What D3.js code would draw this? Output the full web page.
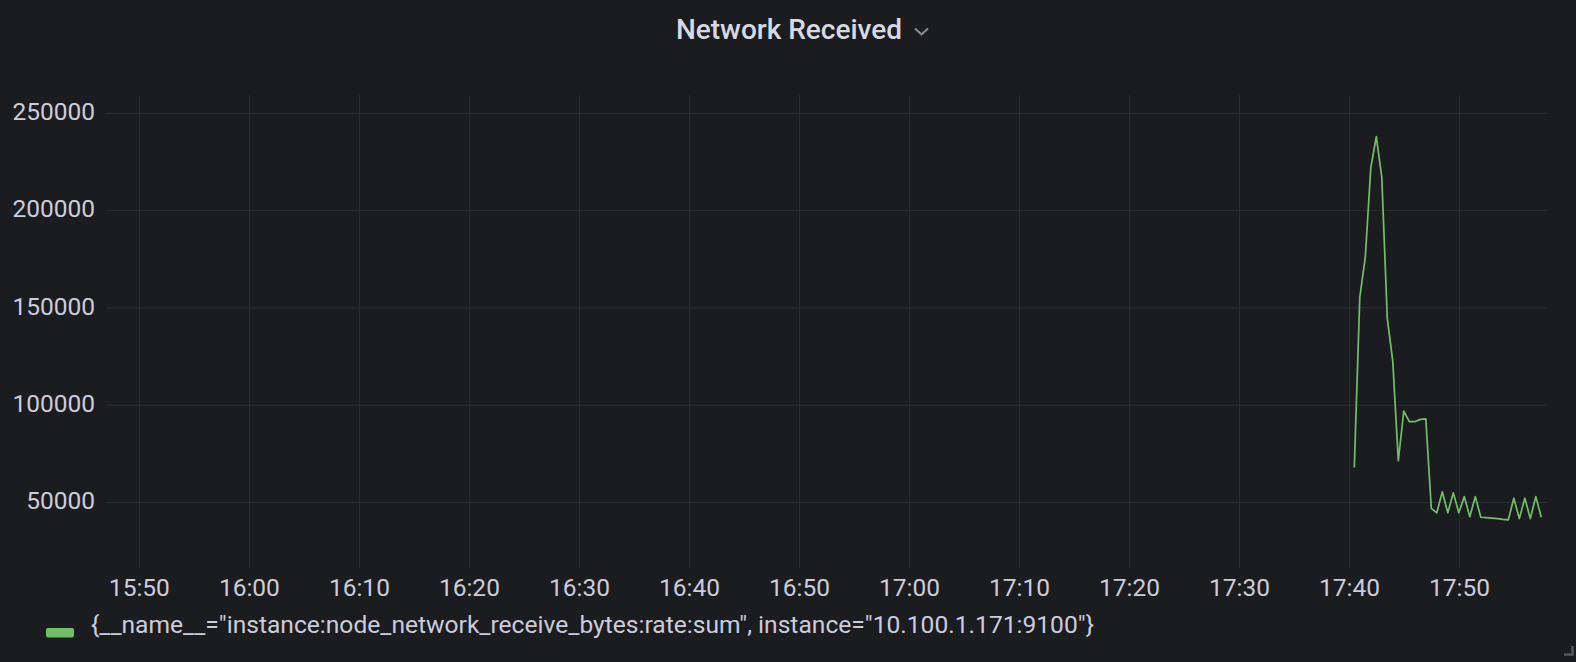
<!DOCTYPE html>
<html>
<head>
<meta charset="utf-8">
<script src="https://cdn.jsdelivr.net/npm/d3@7"></script>
<style>
  html, body { margin: 0; padding: 0; background: #1b1c20; }
  svg { display: block; }
</style>
</head>
<body>
<svg id="chart" width="1576" height="662"></svg>
<script>
const title = "Network Received";
const seriesName = '{__name__="instance:node_network_receive_bytes:rate:sum", instance="10.100.1.171:9100"}';
const times = ["17:40:26","17:40:56","17:41:26","17:41:56","17:42:26","17:42:56","17:43:26","17:43:56",
  "17:44:26","17:44:56","17:45:26","17:45:56","17:46:26","17:46:56","17:47:26","17:47:56",
  "17:48:26","17:48:56","17:49:26","17:49:56","17:50:26","17:50:56","17:51:26","17:51:56",
  "17:52:26","17:52:56","17:53:26","17:53:56","17:54:26","17:54:56","17:55:26","17:55:56",
  "17:56:26","17:56:56","17:57:26"];
const values = [68000,155500,176000,222000,238000,217000,144500,122500,71500,97000,
  91500,91500,92700,93000,47000,44700,55500,44700,55000,44700,
  53000,42700,53000,42400,42200,42000,41700,41300,41100,52200,
  41700,52200,41700,53000,42400];
const yTicks = [50000,100000,150000,200000,250000];
const xTickLabels = ["15:50","16:00","16:10","16:20","16:30","16:40","16:50","17:00","17:10","17:20","17:30","17:40","17:50"];
const xDomain = ["15:46:58","17:57:57"];
const yDomain = [16330, 259400];

(function () {
const parse = d3.timeParse("%H:%M:%S");
const parseTick = d3.timeParse("%H:%M");
const svg = d3.select("#chart");
const pLeft = 106, pRight = 1547, pTop = 95, pBottom = 568;

const x = d3.scaleTime().domain(xDomain.map(parse)).range([pLeft, pRight]);
const y = d3.scaleLinear().domain(yDomain).range([pBottom, pTop]);

const textColor = "#ccccdc";
const gridColor = "#2d2e33";
const lineColor = "#73bf69";

// title
svg.append("text").attr("x", 789).attr("y", 39).attr("text-anchor", "middle")
  .attr("font-family", "Roboto").attr("font-weight", 500).attr("font-size", 28)
  .attr("fill", "#d8d9e2").text(title);
svg.append("path").attr("d", "M915,28.5 L921.5,34.5 L928,28.5")
  .attr("fill", "none").attr("stroke", "#8e8e99").attr("stroke-width", 2);

// horizontal grid + y labels
const yAxis = svg.append("g");
yTicks.forEach(v => {
  yAxis.append("line").attr("x1", pLeft).attr("x2", pRight)
    .attr("y1", y(v)).attr("y2", y(v)).attr("stroke", gridColor).attr("stroke-width", 1);
  yAxis.append("text").attr("x", 95).attr("y", y(v) + 6.7).attr("text-anchor", "end")
    .attr("font-family", "Roboto").attr("font-size", 24.5).attr("fill", textColor)
    .text(v);
});

// vertical grid + x labels
const xAxis = svg.append("g");
xTickLabels.forEach(t => {
  const d = parseTick(t);
  xAxis.append("line").attr("x1", x(d)).attr("x2", x(d))
    .attr("y1", pTop).attr("y2", pBottom).attr("stroke", gridColor).attr("stroke-width", 1);
  xAxis.append("text").attr("x", x(d)).attr("y", 596).attr("text-anchor", "middle")
    .attr("font-family", "Roboto").attr("font-size", 24.5).attr("fill", textColor)
    .text(t);
});

// series line
const data = times.map((t, i) => ({ t: parse(t), v: values[i] }));
svg.append("path").datum(data)
  .attr("fill", "none").attr("stroke", lineColor).attr("stroke-width", 1.7)
  .attr("stroke-linejoin", "round")
  .attr("d", d3.line().x(d => x(d.t)).y(d => y(d.v)));

// legend
svg.append("rect").attr("x", 46).attr("y", 628).attr("width", 28).attr("height", 9.5)
  .attr("rx", 2).attr("fill", lineColor);
svg.append("text").attr("x", 91).attr("y", 633)
  .attr("font-family", "Roboto").attr("font-size", 24.6).attr("fill", textColor)
  .text(seriesName);

// resize handle
svg.append("path").attr("d", "M1564,654.5 L1572.5,654.5 L1572.5,646")
  .attr("fill", "none").attr("stroke", "#55565c").attr("stroke-width", 2.5);
})();
</script>
</body>
</html>
